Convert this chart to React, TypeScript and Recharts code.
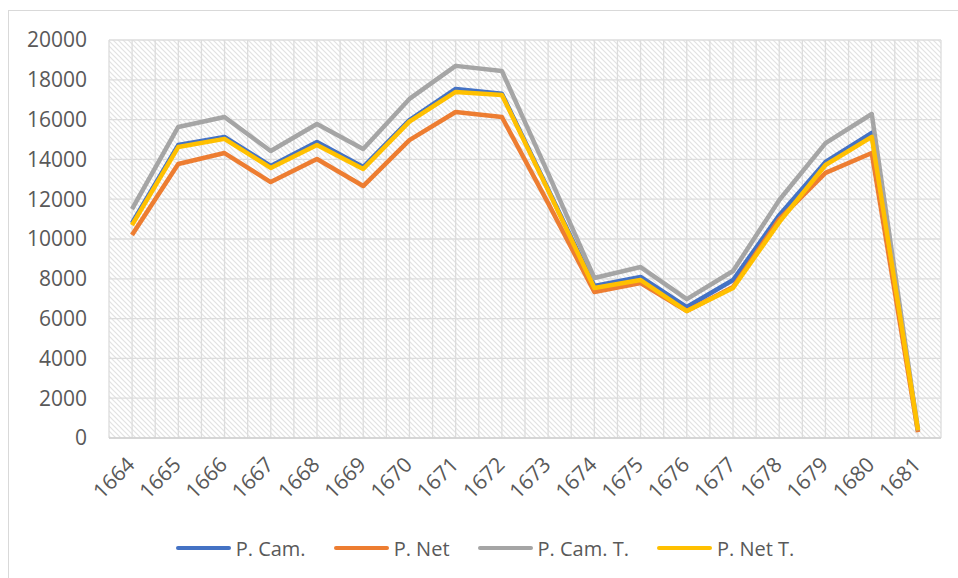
import React from 'react';
import { LineChart, Line, XAxis, YAxis, CartesianGrid, Legend } from 'recharts';

// values
const years = ['1664', '1665', '1666', '1667', '1668', '1669', '1670', '1671', '1672', '1673', '1674', '1675', '1676', '1677', '1678', '1679', '1680', '1681'];
const pCam = [10800, 14720, 15130, 13670, 14870, 13620, 15980, 17540, 17300, 12500, 7640, 8090, 6580, 7940, 11200, 13870, 15330, 350];
const pNet = [10200, 13770, 14320, 12860, 14020, 12660, 14970, 16380, 16130, 11800, 7340, 7790, 6380, 7590, 11000, 13320, 14320, 300];
const pCamT = [11500, 15630, 16130, 14420, 15780, 14520, 17040, 18700, 18440, 13300, 8040, 8590, 6980, 8390, 11960, 14820, 16280, 380];
const pNetT = [10700, 14620, 15030, 13570, 14720, 13520, 15900, 17390, 17240, 12450, 7540, 7940, 6380, 7540, 10850, 13720, 15130, 400];
const yTicks = [0, 2000, 4000, 6000, 8000, 10000, 12000, 14000, 16000, 18000, 20000];

const series = [
  { key: 'pCam', name: 'P. Cam.', color: '#4472C4' },
  { key: 'pNet', name: 'P. Net', color: '#ED7D31' },
  { key: 'pCamT', name: 'P. Cam. T.', color: '#A5A5A5' },
  { key: 'pNetT', name: 'P. Net T.', color: '#FFC000' },
];

const data = years.map((year, i) => ({
  year,
  pCam: pCam[i],
  pNet: pNet[i],
  pCamT: pCamT[i],
  pNetT: pNetT[i],
}));

const FONT = '"Open Sans", sans-serif';
const TEXT = '#595959';

const YearTick = ({ x, y, payload }: any) => {
  const ax = x + 4;
  const ay = y + 28;
  return (
    <text
      x={ax}
      y={ay}
      transform={`rotate(-45, ${ax}, ${ay})`}
      textAnchor="end"
      fill={TEXT}
      fontSize={21}
      fontFamily={FONT}
    >
      {payload.value}
    </text>
  );
};

const renderLegend = () => (
  <div
    style={{
      display: 'flex',
      justifyContent: 'center',
      alignItems: 'center',
      height: 30,
      paddingLeft: 20,
      fontFamily: FONT,
      fontSize: 20,
      color: TEXT,
    }}
  >
    {series.map((s) => (
      <div key={s.key} style={{ display: 'flex', alignItems: 'center', margin: '0 14px' }}>
        <span style={{ display: 'inline-block', width: 55, height: 4, borderRadius: 2, background: s.color, marginRight: 5 }} />
        <span>{s.name}</span>
      </div>
    ))}
  </div>
);

const App = () => {
  return (
    <div
      style={{
        position: 'absolute',
        left: 8,
        top: 10,
        width: 950,
        height: 568,
        borderLeft: '1px solid #d9d9d9',
        borderTop: '1px solid #d9d9d9',
        background: '#fff',
        boxSizing: 'border-box',
      }}
    >
      <LineChart width={949} height={567} data={data} margin={{ top: 29, right: 17, left: 0, bottom: 15 }}>
        <defs>
          <pattern id="hatch" width="5" height="5" patternUnits="userSpaceOnUse">
            <rect width="5" height="5" fill="#ffffff" />
            <path d="M0,0 L5,5 M-1,4 L1,6 M4,-1 L6,1" stroke="#e2e2e2" strokeWidth="1.2" />
          </pattern>
        </defs>
        <CartesianGrid
          fill="url(#hatch)"
          fillOpacity={1}
          stroke="#dcdcdc"
          strokeWidth={1.3}
          verticalCoordinatesGenerator={({ offset }: any) =>
            Array.from({ length: 37 }, (_, i) => offset.left + (i * offset.width) / 36)
          }
        />
        <XAxis
          dataKey="year"
          interval={0}
          padding={{ left: 23, right: 23 }}
          height={95}
          tickLine={false}
          tickSize={0}
          tickMargin={0}
          axisLine={{ stroke: '#d0d0d0', strokeWidth: 1.5 }}
          tick={<YearTick />}
        />
        <YAxis
          width={100}
          domain={[0, 20000]}
          ticks={yTicks}
          interval={0}
          axisLine={false}
          tickLine={false}
          tickSize={0}
          tickMargin={22}
          tick={{ fill: TEXT, fontSize: 21, fontFamily: FONT }}
        />
        <Legend verticalAlign="bottom" height={30} content={renderLegend} />
        {series.map((s) => (
          <Line
            key={s.key}
            type="linear"
            dataKey={s.key}
            name={s.name}
            stroke={s.color}
            strokeWidth={4.5}
            strokeLinejoin="round"
            dot={false}
            activeDot={false}
            isAnimationActive={false}
          />
        ))}
      </LineChart>
    </div>
  );
};

export default App;
